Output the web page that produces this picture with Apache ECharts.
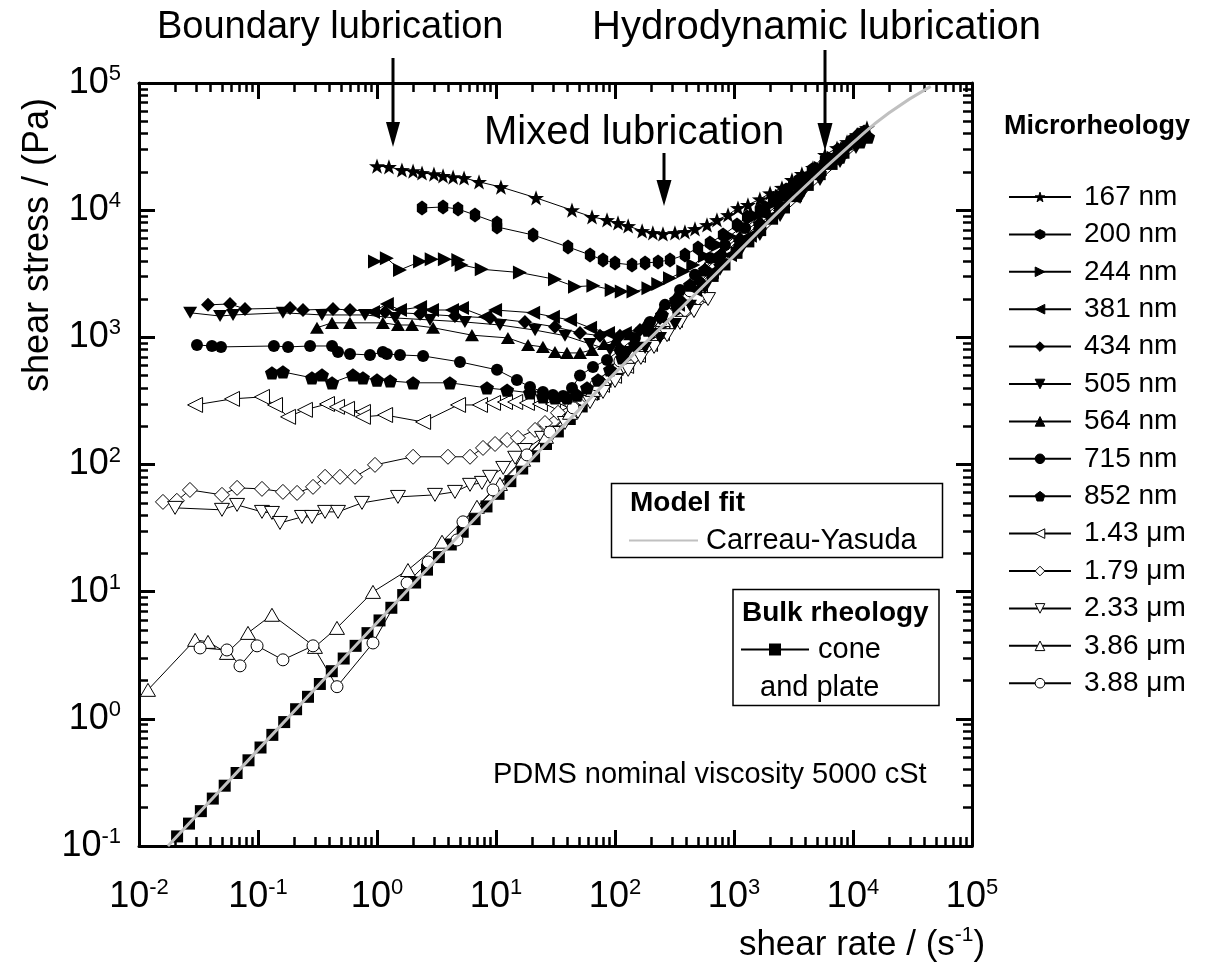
<!DOCTYPE html>
<html>
<head>
<meta charset="utf-8">
<title>shear stress vs shear rate</title>
<script src="https://cdn.jsdelivr.net/npm/echarts@6/dist/echarts.min.js"></script>
<style>
  html, body { margin: 0; padding: 0; background: #fff; }
  #chart { width: 1221px; height: 976px; }
</style>
</head>
<body>
<div id="chart"></div>
<script>
// data: [shear rate (1/s), shear stress (Pa)]
const s167 = [[1.00,22200],[1.26,21900],[1.62,20700],[2.01,20300],[2.39,19600],[3.01,19200],[3.59,18600],[4.36,18200],[5.39,17900],[7.20,16700],[11.0,15200],[21.7,12500],[43.5,10000],[64.1,8850],[85.7,8380],[106,7930],[129,7510],[169,6860],[208,6620],[253,6500],[319,6620],[387,6740],[470,7120],[593,7650],[719,8380],[891,9170],[1080,10400],[1310,11000],[1650,12200],[2010,13600],[2530,15000],[3070,17300],[3720,19300],[4610,21500],[5820,27200],[7340,30800],[8910,34400],[10800,39000],[13100,44300]];
const s200 = [[2.39,10400],[3.59,10600],[4.80,10200],[6.66,9170],[10.2,7930],[10.2,7380],[20.5,6380],[40.3,5140],[61.7,4450],[79.3,4060],[100,3840],[139,3710],[179,3840],[230,3920],[290,4060],[387,4450],[498,5050],[628,5520],[809,6380],[1060,7650],[1290,8850],[1650,10000],[2130,12000],[2740,14400],[3520,17300],[4520,20700],[5820,24800],[7480,29700],[9620,35000],[12400,41200]];
const s244 = [[0.962,3940],[1.21,4190],[1.56,3390],[2.30,3940],[2.88,4110],[3.72,4110],[4.82,4060],[5.15,3710],[7.59,3430],[15.9,3230],[31.3,2860],[46.1,2500],[65.8,2550],[93.8,2360],[114,2290],[143,2290],[191,2430],[231,2630],[290,2920],[375,3290],[455,3710],[570,4370],[735,5320],[925,6270],[1190,7510],[1530,9000],[1970,10800],[2530,12900],[3260,15500],[4190,18200],[5380,21500],[6920,25700],[8910,30300],[11500,35600]];
const s381 = [[0.925,1585],[1.21,1830],[1.56,1640],[2.30,1730],[2.90,1640],[4.27,1640],[5.18,1700],[8.09,1450],[9.82,1640],[20.5,1560],[30.1,1450],[41.9,1370],[61.7,1190],[87.3,1080],[121,1080],[169,1190],[239,1420],[338,1800],[470,2360],[653,3270],[925,4450],[1360,6300],[2010,8800],[3070,13000],[4800,19500],[7480,28000],[11500,39000]];
const s434 = [[0.0380,1800],[0.0582,1830],[0.0778,1670],[0.186,1700],[0.239,1640],[0.427,1670],[0.593,1640],[1.17,1580],[2.30,1530],[4.52,1470],[8.91,1420],[17.5,1320],[31.3,1210],[50.8,1080],[74.8,1030],[110,1030],[162,1140],[239,1420],[352,1970],[518,2730],[762,3920],[1120,5320],[1650,7240],[2440,10000],[3590,15000],[5280,21000],[7780,29500],[11000,39500]];
const s505 = [[0.0269,1560],[0.0480,1470],[0.0617,1500],[0.162,1560],[0.345,1500],[0.793,1500],[1.42,1420],[2.79,1370],[5.48,1320],[10.8,1250],[21.3,1140],[38.0,1030],[61.7,887],[90.8,796],[129,767],[179,826],[239,989],[319,1270],[427,1770],[570,2440],[762,3390],[1120,4690],[1650,6380],[2440,9000],[3590,12500],[5280,17300],[7780,23900],[10600,30800]];
const s564 = [[0.313,1190],[0.419,1300],[0.593,1300],[1.12,1300],[1.50,1250],[1.97,1250],[2.96,1190],[6.28,1040],[12.6,989],[18.6,871],[24.8,841],[31.3,767],[39.5,754],[50.8,754],[64.1,796],[80.9,887],[102,955],[134,1060],[179,1250],[239,1580],[319,2040],[427,2630],[570,3520],[792,4780],[1120,6270],[1650,8380],[2440,11400],[3590,15500],[5280,20700],[7780,28200]];
const s715 = [[0.0307,871],[0.0410,855],[0.0489,841],[0.136,855],[0.179,841],[0.274,855],[0.419,855],[0.470,767],[0.593,740],[0.873,727],[1.12,767],[1.21,740],[1.56,727],[2.44,714],[4.98,641],[10.2,555],[15.0,462],[19.3,407],[24.8,372],[30.1,352],[36.6,346],[43.5,400],[50.8,500],[65.3,585],[85.7,664],[110,796],[147,989],[197,1320],[263,1800],[352,2360],[470,3100],[628,4210],[839,5320],[1240,7240],[1820,9680],[2690,12900],[3960,17300],[5820,23500],[8570,31400],[11900,39700]];
const s852 = [[0.131,525],[0.162,535],[0.284,480],[0.345,506],[0.419,439],[0.628,506],[0.762,480],[1.00,462],[1.29,454],[2.01,439],[4.10,439],[8.40,400],[12.4,385],[19.3,366],[24.8,340],[31.3,334],[39.5,334],[48.0,352],[58.2,400],[72.0,462],[90.8,555],[115,689],[147,871],[189,1140],[248,1500],[326,1970],[427,2580],[570,3390],[762,4370],[1120,5840],[1650,7800],[2440,10600],[3590,14400],[5280,19600],[7780,26200],[11500,34400],[13400,37600]];
const s143 = [[0.0296,294],[0.0605,328],[0.108,340],[0.139,294],[0.179,237],[0.248,269],[0.380,299],[0.461,284],[0.560,274],[0.762,259],[0.762,237],[1.17,245],[2.44,216],[4.80,294],[7.34,294],[9.44,305],[11.9,310],[14.5,310],[18.2,305],[23.4,299],[30.1,299],[38.7,305],[48.9,322],[61.7,366],[77.8,423],[98.2,498],[124,596],[156,727],[197,887],[248,1080],[319,1370],[410,1700],[518,2110]];
const s179 = [[0.0159,50.8],[0.0208,51.8],[0.0268,63.1],[0.0498,57.7],[0.0667,65.5],[0.108,64.3],[0.162,60.9],[0.213,59.8],[0.290,66.7],[0.366,80.0],[0.489,80.0],[0.653,80.0],[0.962,99.3],[2.01,115],[3.95,115],[6.05,115],[7.78,135],[9.82,145],[12.4,156],[15.3,162],[21.3,187],[25.8,212],[33.2,255],[43.5,294],[56.0,352],[72.0,415],[90.8,489],[115,585],[147,714],[189,871],[239,1060],[301,1320],[387,1640],[498,2040]];
const s233 = [[0.0201,45.6],[0.0498,44.0],[0.0667,48.1],[0.108,42.4],[0.131,41.6],[0.153,34.7],[0.234,38.7],[0.284,38.7],[0.366,42.4],[0.470,42.4],[0.748,49.9],[1.50,55.6],[3.07,57.7],[4.52,60.9],[6.05,69.2],[7.62,71.7],[8.91,80.0],[11.5,94.0],[14.5,113],[17.5,130],[24.4,162],[30.1,177],[38.0,212],[48.9,259],[61.7,310],[79.3,372],[100,454],[129,555],[165,689],[213,841],[274,1040],[352,1300],[461,1610],[605,2000]];
const s386 = [[0.0119,1.69],[0.0296,4.18],[0.0380,4.03],[0.0548,3.30],[0.0824,4.74],[0.131,6.58],[0.301,3.68],[0.461,5.19],[0.925,9.96],[1.82,14.8],[3.52,24.7],[6.92,46.5],[10.8,70.3],[16.9,109],[26.3,165],[41.9,255],[65.3,386],[102,585],[162,904],[253,1370],[395,2080],[518,2630]];
const s388 = [[0.0326,3.61],[0.0548,3.48],[0.0706,2.61],[0.0982,3.75],[0.162,2.91],[0.290,3.75],[0.461,1.79],[0.925,3.95],[1.79,11.7],[2.69,17.1],[4.70,25.5],[5.28,35.4],[9.44,63.1],[18.2,119],[28.4,180],[44.4,279],[69.2,423],[110,652],[172,989],[274,1530],[427,2320]];

// bulk rheology, cone and plate
const bulk = [[0.0209,0.119],[0.0263,0.150],[0.0331,0.188],[0.0417,0.236],[0.0525,0.298],[0.0661,0.375],[0.0832,0.472],[0.105,0.595],[0.132,0.748],[0.166,0.943],[0.209,1.19],[0.263,1.49],[0.331,1.88],[0.417,2.37],[0.525,2.98],[0.661,3.75],[0.832,4.72],[1.05,5.94],[1.32,7.47],[1.66,9.40],[2.09,11.8],[2.63,14.9],[3.31,18.7],[4.17,23.5],[5.25,29.6],[6.61,37.2],[8.32,46.8],[10.5,58.8],[13.2,74.0],[16.6,93.0],[20.9,116],[26.3,145],[33.1,182],[41.7,228],[52.5,286],[66.1,358],[83.2,448],[105,557],[132,693],[166,863],[209,1066],[263,1315],[331,1622],[417,2000],[525,2470],[661,3040],[832,3740],[1050,4620],[1320,5680],[1660,6970],[2090,8570],[2630,10500],[3310,12900],[4170,15800],[5250,19200],[6610,23100],[8320,28300],[10500,34600]];

// Carreau-Yasuda fit line
const cyFit = [[0.0175,0.1],[0.1,0.57],[1,5.7],[10,56],[100,525],[316,1510],[1000,4370],[3160,12600],[10000,33900],[20000,58000],[45000,94000]];

const microNames = ['167 nm','200 nm','244 nm','381 nm','434 nm','505 nm','564 nm','715 nm','852 nm','1.43 μm','1.79 μm','2.33 μm','3.86 μm','3.88 μm'];
const microData = [s167, s200, s244, s381, s434, s505, s564, s715, s852, s143, s179, s233, s386, s388];

const FONT = '"Liberation Sans", Arial, Helvetica, sans-serif';

// marker shapes
const STAR = 'path://M10 0L12.35 6.76L19.51 6.91L13.8 11.24L15.88 18.09L10 14L4.12 18.09L6.2 11.24L0.49 6.91L7.65 6.76Z';
const HEX = 'path://M10 0L18.66 5L18.66 15L10 20L1.34 15L1.34 5Z';
const TRI_R = 'path://M0 0L20 10L0 20Z';
const TRI_L = 'path://M20 0L0 10L20 20Z';
const TRI_D = 'path://M0 0L20 0L10 17.3Z';
const TRI_U = 'path://M10 0L20 17.3L0 17.3Z';
const PENT = 'path://M10 0L19.51 6.91L15.88 18.09L4.12 18.09L0.49 6.91Z';

const microSymbol = [STAR, HEX, TRI_R, TRI_L, 'diamond', TRI_D, TRI_U, 'circle', PENT, TRI_L, 'diamond', TRI_D, TRI_U, 'circle'];
const microSize = [16, [12, 15], 14, 14, 14, 14, 14, 12, 14, 15, 15, 15, 15, 12];
const microOpen = [false, false, false, false, false, false, false, false, false, true, true, true, true, true];

// minor ticks, in log10 units
const MINOR_X = [], MINOR_Y = [];
for (let d = -2; d < 5; d++) for (let k = 2; k <= 9; k++) MINOR_X.push(d + Math.log10(k));
for (let d = -1; d < 5; d++) for (let k = 2; k <= 9; k++) MINOR_Y.push(d + Math.log10(k));

const chart = echarts.init(document.getElementById('chart'));

var tickRich = {
  b: { fontSize: 36, lineHeight: 40, fontFamily: FONT, color: '#000' },
  s: { fontSize: 22, lineHeight: 16, verticalAlign: 'top', fontFamily: FONT, color: '#000' }
};
function powLabel(v) {
  return '{b|10}{s|' + Math.round(Math.log10(v)) + '}';
}

function logAxis(pos, min, max, showLabel) {
  return {
    type: 'log', logBase: 10, min: min, max: max, position: pos,
    axisLine: { onZero: false, lineStyle: { color: '#000', width: 3 } },
    axisTick: { inside: true, length: 16, lineStyle: { color: '#000', width: 3 } },
    axisLabel: showLabel ? { formatter: powLabel, rich: tickRich, margin: pos === 'left' ? 18 : 31 } : { show: false },
    splitLine: { show: false }
  };
}
function minorAxis(pos, min, max, vals) {
  return {
    type: 'value', min: min, max: max, position: pos,
    axisLine: { show: false, onZero: false },
    axisTick: { inside: true, length: 9, customValues: vals, lineStyle: { color: '#000', width: 2.5 } },
    axisLabel: { show: false },
    splitLine: { show: false }
  };
}

var series = [];
series.push({
  name: 'cone and plate', type: 'line', data: bulk, z: 2,
  symbol: 'rect', symbolSize: 12,
  itemStyle: { color: '#000' }, lineStyle: { color: '#000', width: 1.5 }
});
// open markers first, filled on top
var order = [9, 10, 11, 12, 13, 0, 1, 2, 3, 4, 5, 6, 7, 8];
order.forEach(function (i) {
  series.push({
    name: microNames[i], type: 'line', data: microData[i], z: 3,
    symbol: microSymbol[i], symbolSize: microSize[i], symbolKeepAspect: true,
    itemStyle: microOpen[i] ? { color: '#fff', borderColor: '#000', borderWidth: 1 } : { color: '#000', borderColor: '#000', borderWidth: 0 },
    lineStyle: { color: '#000', width: 1 }
  });
});
series.push({
  name: 'Carreau-Yasuda', type: 'line', data: cyFit, smooth: true, z: 5,
  symbol: 'none', itemStyle: { color: '#c0c0c0' },
  lineStyle: { color: '#c0c0c0', width: 3 }
});

var option = {
  backgroundColor: '#fff',
  animation: false,
  grid: { left: 139, top: 83, width: 833, height: 763 },
  xAxis: [
    logAxis('bottom', 0.01, 1e5, true),
    logAxis('top', 0.01, 1e5, false),
    minorAxis('bottom', -2, 5, MINOR_X),
    minorAxis('top', -2, 5, MINOR_X)
  ],
  yAxis: [
    logAxis('left', 0.1, 1e5, true),
    logAxis('right', 0.1, 1e5, false),
    minorAxis('left', -1, 5, MINOR_Y),
    minorAxis('right', -1, 5, MINOR_Y)
  ],
  legend: [
    {
      data: microNames, orient: 'vertical', left: 1008, top: 183, padding: 0,
      itemWidth: 62, itemHeight: 12, itemGap: 9.4, selectedMode: false,
      itemStyle: { borderWidth: 1 },
      textStyle: { fontSize: 28, lineHeight: 28, fontFamily: FONT, color: '#000', padding: [0, 0, 0, 8] }
    },
    {
      data: [{ name: 'Carreau-Yasuda', itemStyle: { opacity: 0 } }],
      left: 628, top: 526, padding: 0, itemWidth: 69, itemHeight: 14, selectedMode: false,
      textStyle: { fontSize: 29, lineHeight: 28, fontFamily: FONT, color: '#000', padding: [0, 0, 0, 3] }
    },
    {
      data: ['cone and plate'], formatter: function () { return 'cone'; },
      left: 740, top: 635, padding: 0, itemWidth: 68, itemHeight: 15, selectedMode: false,
      textStyle: { fontSize: 29, lineHeight: 28, fontFamily: FONT, color: '#000', padding: [0, 0, 0, 4] }
    }
  ],
  graphic: [
    { type: 'text', x: 157, y: 28, style: { text: 'Boundary lubrication', fontSize: 38, fontFamily: FONT, fill: '#000', verticalAlign: 'middle' } },
    { type: 'text', x: 592, y: 28, style: { text: 'Hydrodynamic lubrication', fontSize: 40, fontFamily: FONT, fill: '#000', verticalAlign: 'middle' } },
    { type: 'text', x: 484, y: 133, style: { text: 'Mixed lubrication', fontSize: 40, fontFamily: FONT, fill: '#000', verticalAlign: 'middle' } },
    // arrows
    { type: 'line', shape: { x1: 393, y1: 58, x2: 393, y2: 128 }, style: { stroke: '#000', lineWidth: 3 } },
    { type: 'polygon', shape: { points: [[386, 122], [400, 122], [393, 147]] }, style: { fill: '#000' } },
    { type: 'line', shape: { x1: 664, y1: 153, x2: 664, y2: 185 }, style: { stroke: '#000', lineWidth: 3 } },
    { type: 'polygon', shape: { points: [[656.5, 180], [671.5, 180], [664, 206]] }, style: { fill: '#000' } },
    { type: 'line', shape: { x1: 825, y1: 50, x2: 825, y2: 128 }, style: { stroke: '#000', lineWidth: 3 } },
    { type: 'polygon', shape: { points: [[817.5, 123], [832.5, 123], [825, 151]] }, style: { fill: '#000' } },
    // axis names
    { type: 'text', x: 38, y: 245, rotation: Math.PI / 2, style: { text: 'shear stress / (Pa)', fontSize: 36, fontFamily: FONT, fill: '#000', align: 'center', verticalAlign: 'middle' } },
    {
      type: 'text', x: 862, y: 945,
      style: {
        text: '{a|shear rate / (s}{b|-1}{a|)}', align: 'center', verticalAlign: 'middle',
        rich: {
          a: { fontSize: 35, lineHeight: 40, fontFamily: FONT, fill: '#000' },
          b: { fontSize: 21, lineHeight: 16, verticalAlign: 'top', fontFamily: FONT, fill: '#000' }
        }
      }
    },
    { type: 'text', x: 493, y: 775, style: { text: 'PDMS nominal viscosity 5000 cSt', fontSize: 29, fontFamily: FONT, fill: '#000', verticalAlign: 'middle' } },
    { type: 'text', x: 1004, y: 127, style: { text: 'Microrheology', fontSize: 27, fontWeight: 'bold', fontFamily: FONT, fill: '#000', verticalAlign: 'middle' } },
    // legend boxes
    { type: 'rect', shape: { x: 611.5, y: 483.5, width: 331, height: 74 }, style: { fill: 'none', stroke: '#000', lineWidth: 1.5 } },
    { type: 'text', x: 630, y: 503, style: { text: 'Model fit', fontSize: 28, fontWeight: 'bold', fontFamily: FONT, fill: '#000', verticalAlign: 'middle' } },
    { type: 'rect', shape: { x: 733, y: 589.5, width: 206, height: 116 }, style: { fill: 'none', stroke: '#000', lineWidth: 1.5 } },
    { type: 'text', x: 742, y: 613, style: { text: 'Bulk rheology', fontSize: 28, fontWeight: 'bold', fontFamily: FONT, fill: '#000', verticalAlign: 'middle' } },
    { type: 'text', x: 760, y: 688, style: { text: 'and plate', fontSize: 29, fontFamily: FONT, fill: '#000', verticalAlign: 'middle' } }
  ],
  series: series
};
chart.setOption(option);
</script>
</body>
</html>
